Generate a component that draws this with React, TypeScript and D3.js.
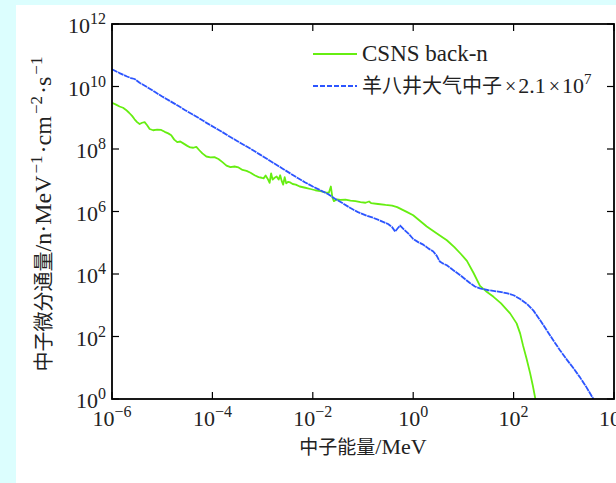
import React from "react";
import * as d3 from "d3";

// log10(E / MeV), log10(flux)
const csnsLogE = [-6.0,-5.92,-5.85,-5.78,-5.72,-5.66,-5.6,-5.55,-5.5,-5.45,-5.4,-5.35,-5.3,-5.25,-5.18,-5.1,-5.02,-4.95,-4.88,-4.82,-4.76,-4.7,-4.64,-4.58,-4.5,-4.44,-4.38,-4.32,-4.26,-4.2,-4.12,-4.04,-3.96,-3.88,-3.8,-3.72,-3.64,-3.56,-3.48,-3.4,-3.32,-3.24,-3.16,-3.08,-3.02,-2.98,-2.94,-2.9,-2.86,-2.83,-2.8,-2.76,-2.72,-2.68,-2.65,-2.62,-2.59,-2.56,-2.53,-2.49,-2.45,-2.4,-2.34,-2.26,-2.15,-2.05,-1.95,-1.85,-1.75,-1.68,-1.64,-1.61,-1.58,-1.52,-1.45,-1.35,-1.25,-1.15,-1.05,-0.95,-0.88,-0.84,-0.7,-0.55,-0.42,-0.32,-0.22,-0.12,0.0,0.12,0.27,0.45,0.67,0.82,0.95,1.07,1.2,1.33,1.45,1.6,1.75,1.93,2.06,2.13,2.19,2.26,2.33,2.38,2.44];
const csnsLogFlux = [9.48,9.42,9.36,9.32,9.25,9.16,9.06,8.95,8.86,8.8,8.84,8.86,8.76,8.64,8.6,8.62,8.61,8.55,8.5,8.44,8.3,8.22,8.24,8.18,8.1,8.05,8.04,8.07,7.96,7.86,7.76,7.73,7.74,7.68,7.58,7.47,7.42,7.44,7.41,7.33,7.3,7.24,7.16,7.1,7.08,7.06,7.15,7.05,6.92,7.22,7.02,7.08,7.12,7.02,7.16,6.98,6.86,7.1,6.9,6.95,6.93,6.88,6.86,6.8,6.76,6.72,6.68,6.65,6.61,6.6,6.8,6.45,6.33,6.39,6.37,6.38,6.35,6.33,6.3,6.28,6.32,6.27,6.24,6.21,6.19,6.14,6.06,5.98,5.88,5.72,5.52,5.32,5.08,4.86,4.64,4.42,4.04,3.62,3.45,3.27,3.06,2.74,2.42,2.1,1.7,1.28,0.82,0.45,-0.05];

const ybjLogE = [-6.0,-5.85,-5.7,-5.62,-5.55,-5.45,-5.3,-5.15,-5.0,-4.85,-4.7,-4.55,-4.4,-4.25,-4.1,-3.95,-3.8,-3.65,-3.5,-3.35,-3.2,-3.05,-2.9,-2.75,-2.6,-2.45,-2.3,-2.15,-2.0,-1.85,-1.7,-1.55,-1.4,-1.25,-1.1,-0.93,-0.8,-0.66,-0.5,-0.42,-0.36,-0.3,-0.26,-0.18,-0.1,0.0,0.1,0.2,0.3,0.4,0.47,0.53,0.6,0.67,0.8,0.93,1.03,1.13,1.23,1.33,1.5,1.73,1.88,2.0,2.13,2.26,2.4,2.53,2.66,2.79,2.92,3.06,3.19,3.32,3.45,3.59];
const ybjLogFlux = [10.55,10.43,10.32,10.27,10.24,10.12,9.98,9.83,9.68,9.54,9.4,9.25,9.11,8.97,8.82,8.68,8.54,8.39,8.25,8.11,7.97,7.82,7.67,7.52,7.37,7.22,7.07,6.93,6.8,6.68,6.56,6.4,6.26,6.11,5.98,5.87,5.8,5.71,5.6,5.5,5.36,5.48,5.55,5.42,5.3,5.12,5.02,4.94,4.82,4.72,4.58,4.4,4.33,4.28,4.12,3.97,3.84,3.71,3.6,3.54,3.48,3.43,3.38,3.32,3.2,3.05,2.82,2.52,2.2,1.88,1.57,1.26,0.99,0.7,0.38,0.0];

const xTickExps = ["−6", "−4", "−2", "0", "2", "4"];
const xTickVals = [1e-6, 1e-4, 1e-2, 1, 1e2, 1e4];
const yTickExps = ["0", "2", "4", "6", "8", "10", "12"];
const yTickVals = [1, 1e2, 1e4, 1e6, 1e8, 1e10, 1e12];

const seriesNames = ["CSNS back-n", "羊八井大气中子"];

const W = 616, H = 483;
const L = 112, R = 614, T = 24, B = 399;
const SERIF = "'Liberation Serif', 'Noto Sans CJK SC', serif";
const CJK = "'Noto Sans CJK SC', sans-serif";

export default function App() {
  const x = d3.scaleLog().domain([1e-6, 1e4]).range([L, R]);
  const y = d3.scaleLog().domain([1, 1e12]).range([B, T]);
  const line = d3
    .line<[number, number]>()
    .x((d) => x(Math.pow(10, d[0])))
    .y((d) => y(Math.pow(10, d[1])));
  const csns: [number, number][] = csnsLogE.map((e, i) => [e, csnsLogFlux[i]]);
  const ybj: [number, number][] = ybjLogE.map((e, i) => [e, ybjLogFlux[i]]);
  const tickLen = 7;

  return (
    <svg width={W} height={H} style={{ position: "absolute", left: 0, top: 0 }} fontFamily={SERIF}>
      <rect x={0} y={0} width={W} height={H} fill="#dcfefe" />
      <rect x={16} y={5} width={W - 16} height={H - 5} fill="#ffffff" />
      <defs>
        <clipPath id="plotclip">
          <rect x={L} y={T} width={R - L} height={B - T} />
        </clipPath>
      </defs>
      <g clipPath="url(#plotclip)">
        <path d={line(csns) || ""} fill="none" stroke="#66ee11" strokeWidth={1.8} strokeLinejoin="round" />
        <path d={line(ybj) || ""} fill="none" stroke="#2c55ff" strokeWidth={1.8} strokeDasharray="6,0.7" strokeLinejoin="round" />
      </g>
      {xTickVals.map((v, i) => (
        <g key={"xt" + i}>
          <line x1={x(v)} x2={x(v)} y1={B} y2={B - tickLen} stroke="#000" strokeWidth={1.2} />
          <line x1={x(v)} x2={x(v)} y1={T} y2={T + tickLen} stroke="#000" strokeWidth={1.2} />
          <text x={x(v)} y={426} textAnchor="middle" fontSize={22} fill="#222">
            <tspan>10</tspan>
            <tspan dy={-9} fontSize={16}>{xTickExps[i]}</tspan>
          </text>
        </g>
      ))}
      {yTickVals.map((v, i) => (
        <g key={"yt" + i}>
          <line x1={L} x2={L + tickLen} y1={y(v)} y2={y(v)} stroke="#000" strokeWidth={1.2} />
          <line x1={R} x2={R - tickLen} y1={y(v)} y2={y(v)} stroke="#000" strokeWidth={1.2} />
          <text x={106} y={y(v) + 9} textAnchor="end" fontSize={22} fill="#222">
            <tspan>10</tspan>
            <tspan dy={-9} fontSize={16}>{yTickExps[i]}</tspan>
          </text>
        </g>
      ))}
      <rect x={L} y={T} width={R - L} height={B - T} fill="none" stroke="#000" strokeWidth={1.8} />
      {/* legend */}
      <line x1={313} x2={357} y1={54} y2={54} stroke="#66ee11" strokeWidth={1.8} />
      <text x={362} y={61} fontSize={23} fill="#222">{seriesNames[0]}</text>
      <line x1={313} x2={357} y1={86} y2={86} stroke="#2c55ff" strokeWidth={1.8} strokeDasharray="5,2" />
      <text x={362} y={93} fontSize={20} fill="#222">
        <tspan fontFamily={CJK}>{seriesNames[1]}</tspan>
        <tspan dx={3}>×</tspan>
        <tspan dx={2} fontSize={22}>2.1</tspan>
        <tspan dx={3}>×</tspan>
        <tspan dx={2} fontSize={22}>10</tspan>
        <tspan dy={-9} fontSize={15}>7</tspan>
      </text>
      {/* axis titles */}
      <text x={363} y={454} textAnchor="middle" fontSize={22} fill="#222">
        <tspan fontFamily={CJK} fontSize={19}>中子能量</tspan>
        <tspan>/MeV</tspan>
      </text>
      <text transform="translate(51,214) rotate(-90)" textAnchor="middle" fontSize={24} fill="#222">
        <tspan fontFamily={CJK} fontSize={20}>中子微分通量</tspan>
        <tspan>/n·MeV</tspan>
        <tspan dx={2} dy={-9} fontSize={17}>−1</tspan>
        <tspan dx={2} dy={9}>·cm</tspan>
        <tspan dx={2} dy={-9} fontSize={17}>−2</tspan>
        <tspan dx={2} dy={9}>·s</tspan>
        <tspan dx={2} dy={-9} fontSize={17}>−1</tspan>
      </text>
    </svg>
  );
}
